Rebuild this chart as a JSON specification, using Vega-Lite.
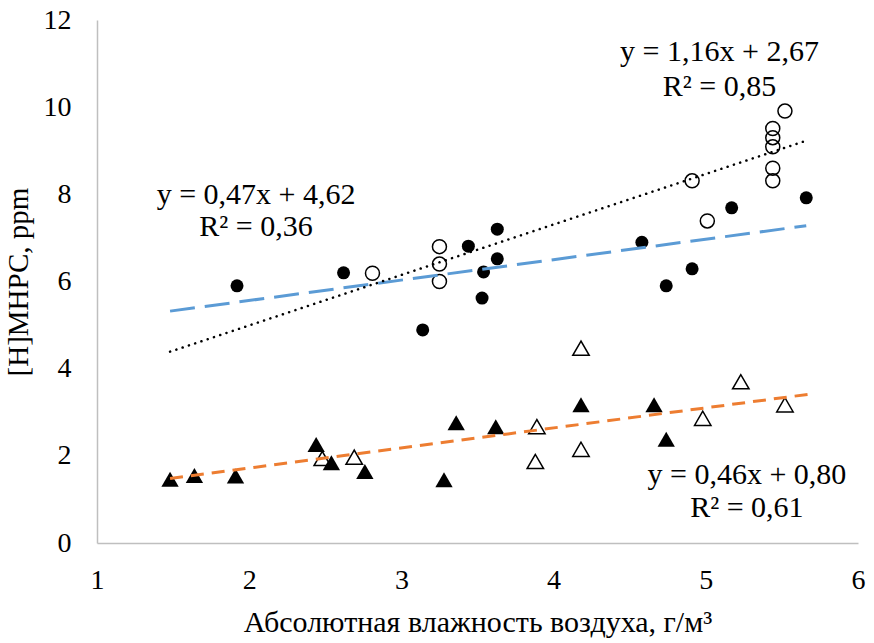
{
  "$schema": "https://vega.github.io/schema/vega-lite/v6.json",
  "width": 761,
  "height": 523,
  "autosize": {"type": "none"},
  "padding": {"left": 97, "top": 20, "right": 16, "bottom": 100},
  "background": "white",
  "config": {
    "view": {"stroke": null},
    "font": "Liberation Serif",
    "axis": {
      "grid": false,
      "ticks": false,
      "domainColor": "#BFBFBF",
      "domainWidth": 1.5,
      "labelFont": "Liberation Serif",
      "labelFontSize": 28,
      "labelColor": "#000000",
      "labelFlush": false,
      "titleFont": "Liberation Serif",
      "titleFontSize": 29,
      "titleFontWeight": "normal",
      "titleColor": "#000000"
    }
  },
  "datasets": {
    "pts": [
      {"s": "A", "x": 1.92, "y": 5.9},
      {"s": "A", "x": 2.62, "y": 6.2},
      {"s": "A", "x": 3.14, "y": 4.89},
      {"s": "A", "x": 3.44, "y": 6.81},
      {"s": "A", "x": 3.54, "y": 6.22},
      {"s": "A", "x": 3.53, "y": 5.62},
      {"s": "A", "x": 3.63, "y": 7.2},
      {"s": "A", "x": 3.63, "y": 6.52},
      {"s": "A", "x": 4.58, "y": 6.9},
      {"s": "A", "x": 4.74, "y": 5.9},
      {"s": "A", "x": 4.91, "y": 6.29},
      {"s": "A", "x": 5.17, "y": 7.69},
      {"s": "A", "x": 5.66, "y": 7.92},
      {"s": "B", "x": 2.81, "y": 6.19},
      {"s": "B", "x": 3.25, "y": 6.8},
      {"s": "B", "x": 3.25, "y": 6.4},
      {"s": "B", "x": 3.25, "y": 6.0},
      {"s": "B", "x": 4.91, "y": 8.31},
      {"s": "B", "x": 5.01, "y": 7.39},
      {"s": "B", "x": 5.52, "y": 9.91},
      {"s": "B", "x": 5.44, "y": 9.51},
      {"s": "B", "x": 5.44, "y": 9.3},
      {"s": "B", "x": 5.44, "y": 9.09},
      {"s": "B", "x": 5.44, "y": 8.6},
      {"s": "B", "x": 5.44, "y": 8.31},
      {"s": "C", "x": 1.48, "y": 1.46},
      {"s": "C", "x": 1.64, "y": 1.55},
      {"s": "C", "x": 1.91, "y": 1.54},
      {"s": "C", "x": 2.44, "y": 2.26},
      {"s": "C", "x": 2.54, "y": 1.84},
      {"s": "C", "x": 2.76, "y": 1.64},
      {"s": "C", "x": 3.28, "y": 1.45},
      {"s": "C", "x": 3.36, "y": 2.76},
      {"s": "C", "x": 3.62, "y": 2.67},
      {"s": "C", "x": 4.18, "y": 3.17},
      {"s": "C", "x": 4.66, "y": 3.17},
      {"s": "C", "x": 4.74, "y": 2.38},
      {"s": "D", "x": 2.48, "y": 1.94},
      {"s": "D", "x": 2.69, "y": 1.97},
      {"s": "D", "x": 3.89, "y": 2.67},
      {"s": "D", "x": 3.88, "y": 1.87},
      {"s": "D", "x": 4.18, "y": 4.47},
      {"s": "D", "x": 4.18, "y": 2.15},
      {"s": "D", "x": 4.98, "y": 2.86},
      {"s": "D", "x": 5.23, "y": 3.7},
      {"s": "D", "x": 5.52, "y": 3.17}
    ],
    "trends": [
      {"t": "A", "x": 1.48, "y": 5.32},
      {"t": "A", "x": 5.66, "y": 7.28},
      {"t": "B", "x": 1.48, "y": 4.39},
      {"t": "B", "x": 5.65, "y": 9.22},
      {"t": "C", "x": 1.48, "y": 1.48},
      {"t": "C", "x": 5.67, "y": 3.41}
    ],
    "labels": [
      {"x": 5.09, "y": 11.27, "text": "y = 1,16x + 2,67"},
      {"x": 5.09, "y": 10.46, "text": "R² = 0,85"},
      {"x": 2.045, "y": 7.99, "text": "y = 0,47x + 4,62"},
      {"x": 2.045, "y": 7.25, "text": "R² = 0,36"},
      {"x": 5.27, "y": 1.56, "text": "y = 0,46x + 0,80"},
      {"x": 5.27, "y": 0.8, "text": "R² = 0,61"}
    ]
  },
  "layer": [
    {
      "data": {"name": "pts"},
      "transform": [{"filter": "datum.s === 'A'"}],
      "mark": {"type": "point", "shape": "circle", "filled": true, "size": 169, "color": "#000000", "opacity": 1},
      "encoding": {
        "x": {"field": "x", "type": "quantitative", "scale": {"domain": [1, 6], "nice": false, "zero": false},
              "axis": {"values": [1, 2, 3, 4, 5, 6], "format": "d", "labelPadding": 23, "title": "Абсолютная влажность воздуха, г/м³", "titlePadding": 13, "titleFontSize": 30}},
        "y": {"field": "y", "type": "quantitative", "scale": {"domain": [0, 12], "nice": false},
              "axis": {"values": [0, 2, 4, 6, 8, 10, 12], "format": "d", "labelPadding": 26, "title": "[H]МНРС, ppm", "titlePadding": 10}}
      }
    },
    {
      "data": {"name": "pts"},
      "transform": [{"filter": "datum.s === 'B'"}],
      "mark": {"type": "point", "shape": "circle", "filled": false, "size": 196, "stroke": "#000000", "strokeWidth": 1.5, "opacity": 1},
      "encoding": {
        "x": {"field": "x", "type": "quantitative"},
        "y": {"field": "y", "type": "quantitative"}
      }
    },
    {
      "data": {"name": "pts"},
      "transform": [{"filter": "datum.s === 'C'"}],
      "mark": {"type": "point", "shape": "triangle-up", "filled": true, "size": 300, "color": "#000000", "opacity": 1},
      "encoding": {
        "x": {"field": "x", "type": "quantitative"},
        "y": {"field": "y", "type": "quantitative"}
      }
    },
    {
      "data": {"name": "pts"},
      "transform": [{"filter": "datum.s === 'D'"}],
      "mark": {"type": "point", "shape": "triangle-up", "filled": false, "size": 270, "stroke": "#000000", "strokeWidth": 1.5, "opacity": 1},
      "encoding": {
        "x": {"field": "x", "type": "quantitative"},
        "y": {"field": "y", "type": "quantitative"}
      }
    },
    {
      "data": {"name": "trends"},
      "transform": [{"filter": "datum.t === 'A'"}],
      "mark": {"type": "line", "color": "#5B9BD5", "strokeWidth": 3, "strokeDash": [25, 10]},
      "encoding": {
        "x": {"field": "x", "type": "quantitative"},
        "y": {"field": "y", "type": "quantitative"}
      }
    },
    {
      "data": {"name": "trends"},
      "transform": [{"filter": "datum.t === 'B'"}],
      "mark": {"type": "line", "color": "#000000", "strokeWidth": 2.5, "strokeDash": [0.1, 6.5], "strokeCap": "round"},
      "encoding": {
        "x": {"field": "x", "type": "quantitative"},
        "y": {"field": "y", "type": "quantitative"}
      }
    },
    {
      "data": {"name": "trends"},
      "transform": [{"filter": "datum.t === 'C'"}],
      "mark": {"type": "line", "color": "#ED7D31", "strokeWidth": 3, "strokeDash": [13, 8]},
      "encoding": {
        "x": {"field": "x", "type": "quantitative"},
        "y": {"field": "y", "type": "quantitative"}
      }
    },
    {
      "data": {"name": "labels"},
      "mark": {"type": "text", "font": "Liberation Serif", "fontSize": 30, "color": "#000000", "align": "center", "baseline": "middle"},
      "encoding": {
        "x": {"field": "x", "type": "quantitative"},
        "y": {"field": "y", "type": "quantitative"},
        "text": {"field": "text"}
      }
    }
  ]
}
